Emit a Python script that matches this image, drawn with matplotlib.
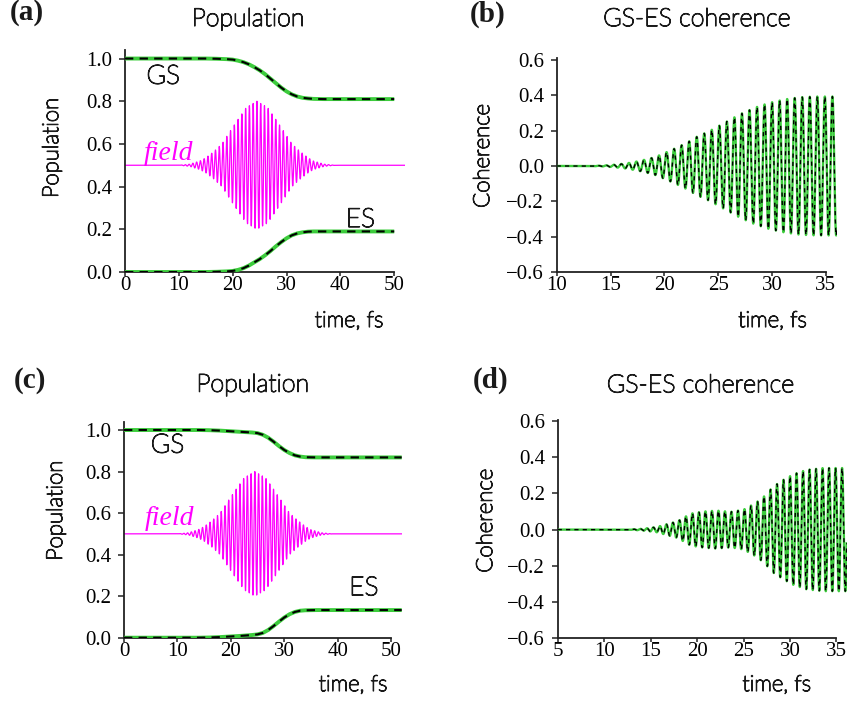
import numpy as np
import matplotlib
matplotlib.use("Agg")
import matplotlib.pyplot as plt
from matplotlib import font_manager as fm
from matplotlib import patheffects as pe

W, H = 850, 704

# ---- population data: (time fs, value) ----
gs_a_t = [0, 15, 17, 19, 20, 21, 22, 23, 24, 25, 26, 27, 28, 29, 30, 31, 32, 33, 34, 35, 37, 50]
gs_a_v = [1.0, 1.0, 0.999, 0.997, 0.995, 0.99, 0.983, 0.973, 0.96, 0.945, 0.927, 0.906, 0.885,
          0.864, 0.846, 0.832, 0.822, 0.816, 0.813, 0.811, 0.81, 0.81]
es_a_t = [0, 15, 17, 19, 20, 21, 22, 23, 24, 25, 26, 27, 28, 29, 30, 31, 32, 33, 34, 35, 37, 50]
es_a_v = [0.0, 0.0, 0.001, 0.003, 0.005, 0.01, 0.018, 0.03, 0.045, 0.06, 0.078, 0.098, 0.12,
          0.14, 0.158, 0.172, 0.181, 0.186, 0.189, 0.19, 0.19, 0.19]

gs_c_t = [0, 14, 16, 18, 20, 22, 24, 25, 26, 27, 28, 29, 30, 31, 32, 33, 34, 36, 52]
gs_c_v = [1.0, 1.0, 0.999, 0.997, 0.994, 0.991, 0.988, 0.985, 0.977, 0.963, 0.944, 0.923,
          0.904, 0.889, 0.878, 0.872, 0.869, 0.868, 0.868]
es_c_t = [0, 14, 16, 18, 20, 22, 24, 25, 26, 27, 28, 29, 30, 31, 32, 33, 34, 36, 52]
es_c_v = [0.0, 0.0, 0.001, 0.003, 0.006, 0.009, 0.013, 0.016, 0.023, 0.037, 0.056, 0.077,
          0.097, 0.113, 0.124, 0.13, 0.132, 0.133, 0.133]

# ---- laser field: envelope knots around the 0.5 baseline ----
field_env_t = [0, 10, 12, 13.9, 15, 16.4, 18, 19.5, 21, 22.5, 24.5, 26.5, 28, 29.4, 31, 32.5, 34, 35, 37, 39, 52]
field_env_a = [0, 0, 0.005, 0.02, 0.035, 0.062, 0.10, 0.159, 0.215, 0.27, 0.30, 0.27, 0.215,
               0.162, 0.10, 0.065, 0.035, 0.02, 0.005, 0, 0]
field_center = 24.5
field_base = 0.5
carrier_period = 0.70  # fs

# ---- GS-ES coherence envelopes ----
coh_b_t = [10, 13, 14.5, 15.5, 16.5, 17.4, 18.3, 19.1, 19.6, 21, 22.1, 23, 24.2, 25.6, 27,
           28.4, 29.8, 31.2, 32.6, 34, 36]
coh_b_a = [0, 0, 0.003, 0.008, 0.015, 0.025, 0.037, 0.05, 0.062, 0.10, 0.132, 0.165, 0.198,
           0.245, 0.292, 0.33, 0.358, 0.377, 0.389, 0.393, 0.393]
coh_d_t = [5, 12.5, 14.2, 15.7, 16.4, 17.9, 19.3, 20.7, 22.1, 23.6, 25, 26.3, 27.2, 28.2,
           29.3, 30.4, 31.8, 33.6, 36.1]
coh_d_a = [0, 0, 0.005, 0.015, 0.025, 0.046, 0.088, 0.10, 0.105, 0.098, 0.11, 0.147, 0.183,
           0.238, 0.275, 0.306, 0.33, 0.34, 0.34]

pop_ticks = [0, 10, 20, 30, 40, 50]
pop_yticks = [0.0, 0.2, 0.4, 0.6, 0.8, 1.0]
coh_yticks = [-0.6, -0.4, -0.2, 0.0, 0.2, 0.4, 0.6]
coh_b_xticks = [10, 15, 20, 25, 30, 35]
coh_d_xticks = [5, 10, 15, 20, 25, 30, 35]

GREEN = "#3ccc3c"
MAGENTA = "#ff00ff"
INK = "#1a1a1a"


def font_file(family, style="normal", weight="normal"):
    return fm.findfont(fm.FontProperties(family=family, style=style, weight=weight))


SERIF_R = font_file("Liberation Serif")
SERIF_I = font_file("Liberation Serif", style="italic")
SERIF_B = font_file("Liberation Serif", weight="bold")
SANS_L = font_file("Lato", weight="light")

# light sans labels, thickened a touch with a same-colour outline
SANS_FX = [pe.withStroke(linewidth=0.9, foreground=INK)]


def fp(path, size):
    return fm.FontProperties(fname=path, size=size)


fig = plt.figure(figsize=(W / 100, H / 100), dpi=100)


def ax_at(left, top, right, bottom):
    return fig.add_axes([left / W, 1 - bottom / H, (right - left) / W, (bottom - top) / H])


def fx(px):
    return px / W


def fy(py):
    return 1 - py / H


def style(ax, xticks, yticks, xbound):
    for s in ("top", "right"):
        ax.spines[s].set_visible(False)
    for s in ("left", "bottom"):
        ax.spines[s].set_linewidth(1.3)
        ax.spines[s].set_color("#222222")
    ax.spines["bottom"].set_bounds(*xbound)
    ax.set_xticks(xticks)
    ax.set_xticklabels([str(v) for v in xticks], fontproperties=fp(SERIF_R, 15))
    ax.set_yticks(yticks)
    ax.set_yticklabels([f"{v:.1f}".replace("-", "\u2212") for v in yticks],
                       fontproperties=fp(SERIF_R, 15))
    ax.tick_params(axis="x", direction="out", length=3, width=1.1, color="#222222", pad=0)
    ax.tick_params(axis="y", direction="out", length=4, width=1.1, color="#222222", pad=5)


def oscillation(t_knots, a_knots, t, center, base=0.0):
    env = np.interp(t, t_knots, a_knots)
    return base + env * np.cos(2 * np.pi * (t - center) / carrier_period)


def sans_text(target, x, y, s, size, **kw):
    return target.text(x, y, s, fontproperties=fp(SANS_L, size), color=INK,
                       path_effects=SANS_FX, **kw)


def pop_panel(ax, gs_t, gs_v, es_t, es_v, gs_xy, es_xy, field_xy):
    t = np.linspace(0, 52, 8000)
    ax.plot(t, oscillation(field_env_t, field_env_a, t, field_center, field_base),
            color=MAGENTA, lw=0.9, zorder=2)
    for tt, vv in ((gs_t, gs_v), (es_t, es_v)):
        ax.plot(tt, vv, color=GREEN, lw=2.8, solid_capstyle="butt", zorder=3)
        ax.plot(tt, vv, color="black", lw=1.5, ls=(0, (4, 3)), zorder=4)
    ax.set_xlim(0, 52)
    ax.set_ylim(0, 1.04)
    style(ax, pop_ticks, pop_yticks, (0, 50))
    sans_text(ax, *gs_xy, "GS", 19, ha="center", va="center")
    sans_text(ax, *es_xy, "ES", 19, ha="center", va="center")
    ax.text(*field_xy, "field", fontproperties=fp(SERIF_I, 20),
            ha="center", va="baseline", color=MAGENTA)


def coh_panel(ax, c_t, c_a, xlim, xticks, ytop):
    t = np.linspace(xlim[0], xlim[1], 8000)
    y = oscillation(c_t, c_a, t, 30.0)
    ax.plot(t, y, color=GREEN, lw=1.7, zorder=3)
    ax.plot(t, y, color="black", lw=1.0, ls=(0, (3, 3)), zorder=4)
    ax.set_xlim(*xlim)
    ax.set_ylim(-0.6, ytop)
    style(ax, xticks, coh_yticks, (xticks[0], xticks[-1]))


# (a) population
ax_a = ax_at(125, 50, 405, 272)
pop_panel(ax_a, gs_a_t, gs_a_v, es_a_t, es_a_v, (7.1, 0.915), (43.7, 0.244), (8.0, 0.526))

# (b) coherence
ax_b = ax_at(556.7, 58, 836.7, 272)
coh_panel(ax_b, coh_b_t, coh_b_a, (10, 36), coh_b_xticks, 0.611)

# (c) population
ax_c = ax_at(124, 421.7, 401.7, 637.7)
pop_panel(ax_c, gs_c_t, gs_c_v, es_c_t, es_c_v, (8.15, 0.925), (44.9, 0.238), (8.6, 0.543))

# (d) coherence
ax_d = ax_at(557.7, 420, 846.7, 638.3)
coh_panel(ax_d, coh_d_t, coh_d_a, (5, 36.1), coh_d_xticks, 0.605)

# titles, axis labels and panel tags
for xc, yb, s in ((248, 26, "Population"), (696.7, 26, "GS-ES coherence"),
                  (252.7, 391.7, "Population"), (700.3, 392.3, "GS-ES coherence")):
    sans_text(fig, fx(xc), fy(yb), s, 18, ha="center", va="baseline")

for xc, yc, s in ((52, 148, "Population"), (483, 156, "Coherence"),
                  (56, 510.8, "Population"), (486, 520.8, "Coherence")):
    sans_text(fig, fx(xc), fy(yc), s, 16, rotation=90, ha="center", va="center")

for xc, yb in ((349, 327), (772.5, 327), (353, 691), (776.7, 691)):
    sans_text(fig, fx(xc), fy(yb), "time, fs", 16, ha="center", va="baseline")

for xl, yb, tag in ((10, 20, "(a)"), (470, 21.5, "(b)"), (14, 388, "(c)"), (473, 388, "(d)")):
    fig.text(fx(xl), fy(yb), tag, fontproperties=fp(SERIF_B, 21),
             ha="left", va="baseline", color=INK)

fig.savefig("out.png", dpi=100)
